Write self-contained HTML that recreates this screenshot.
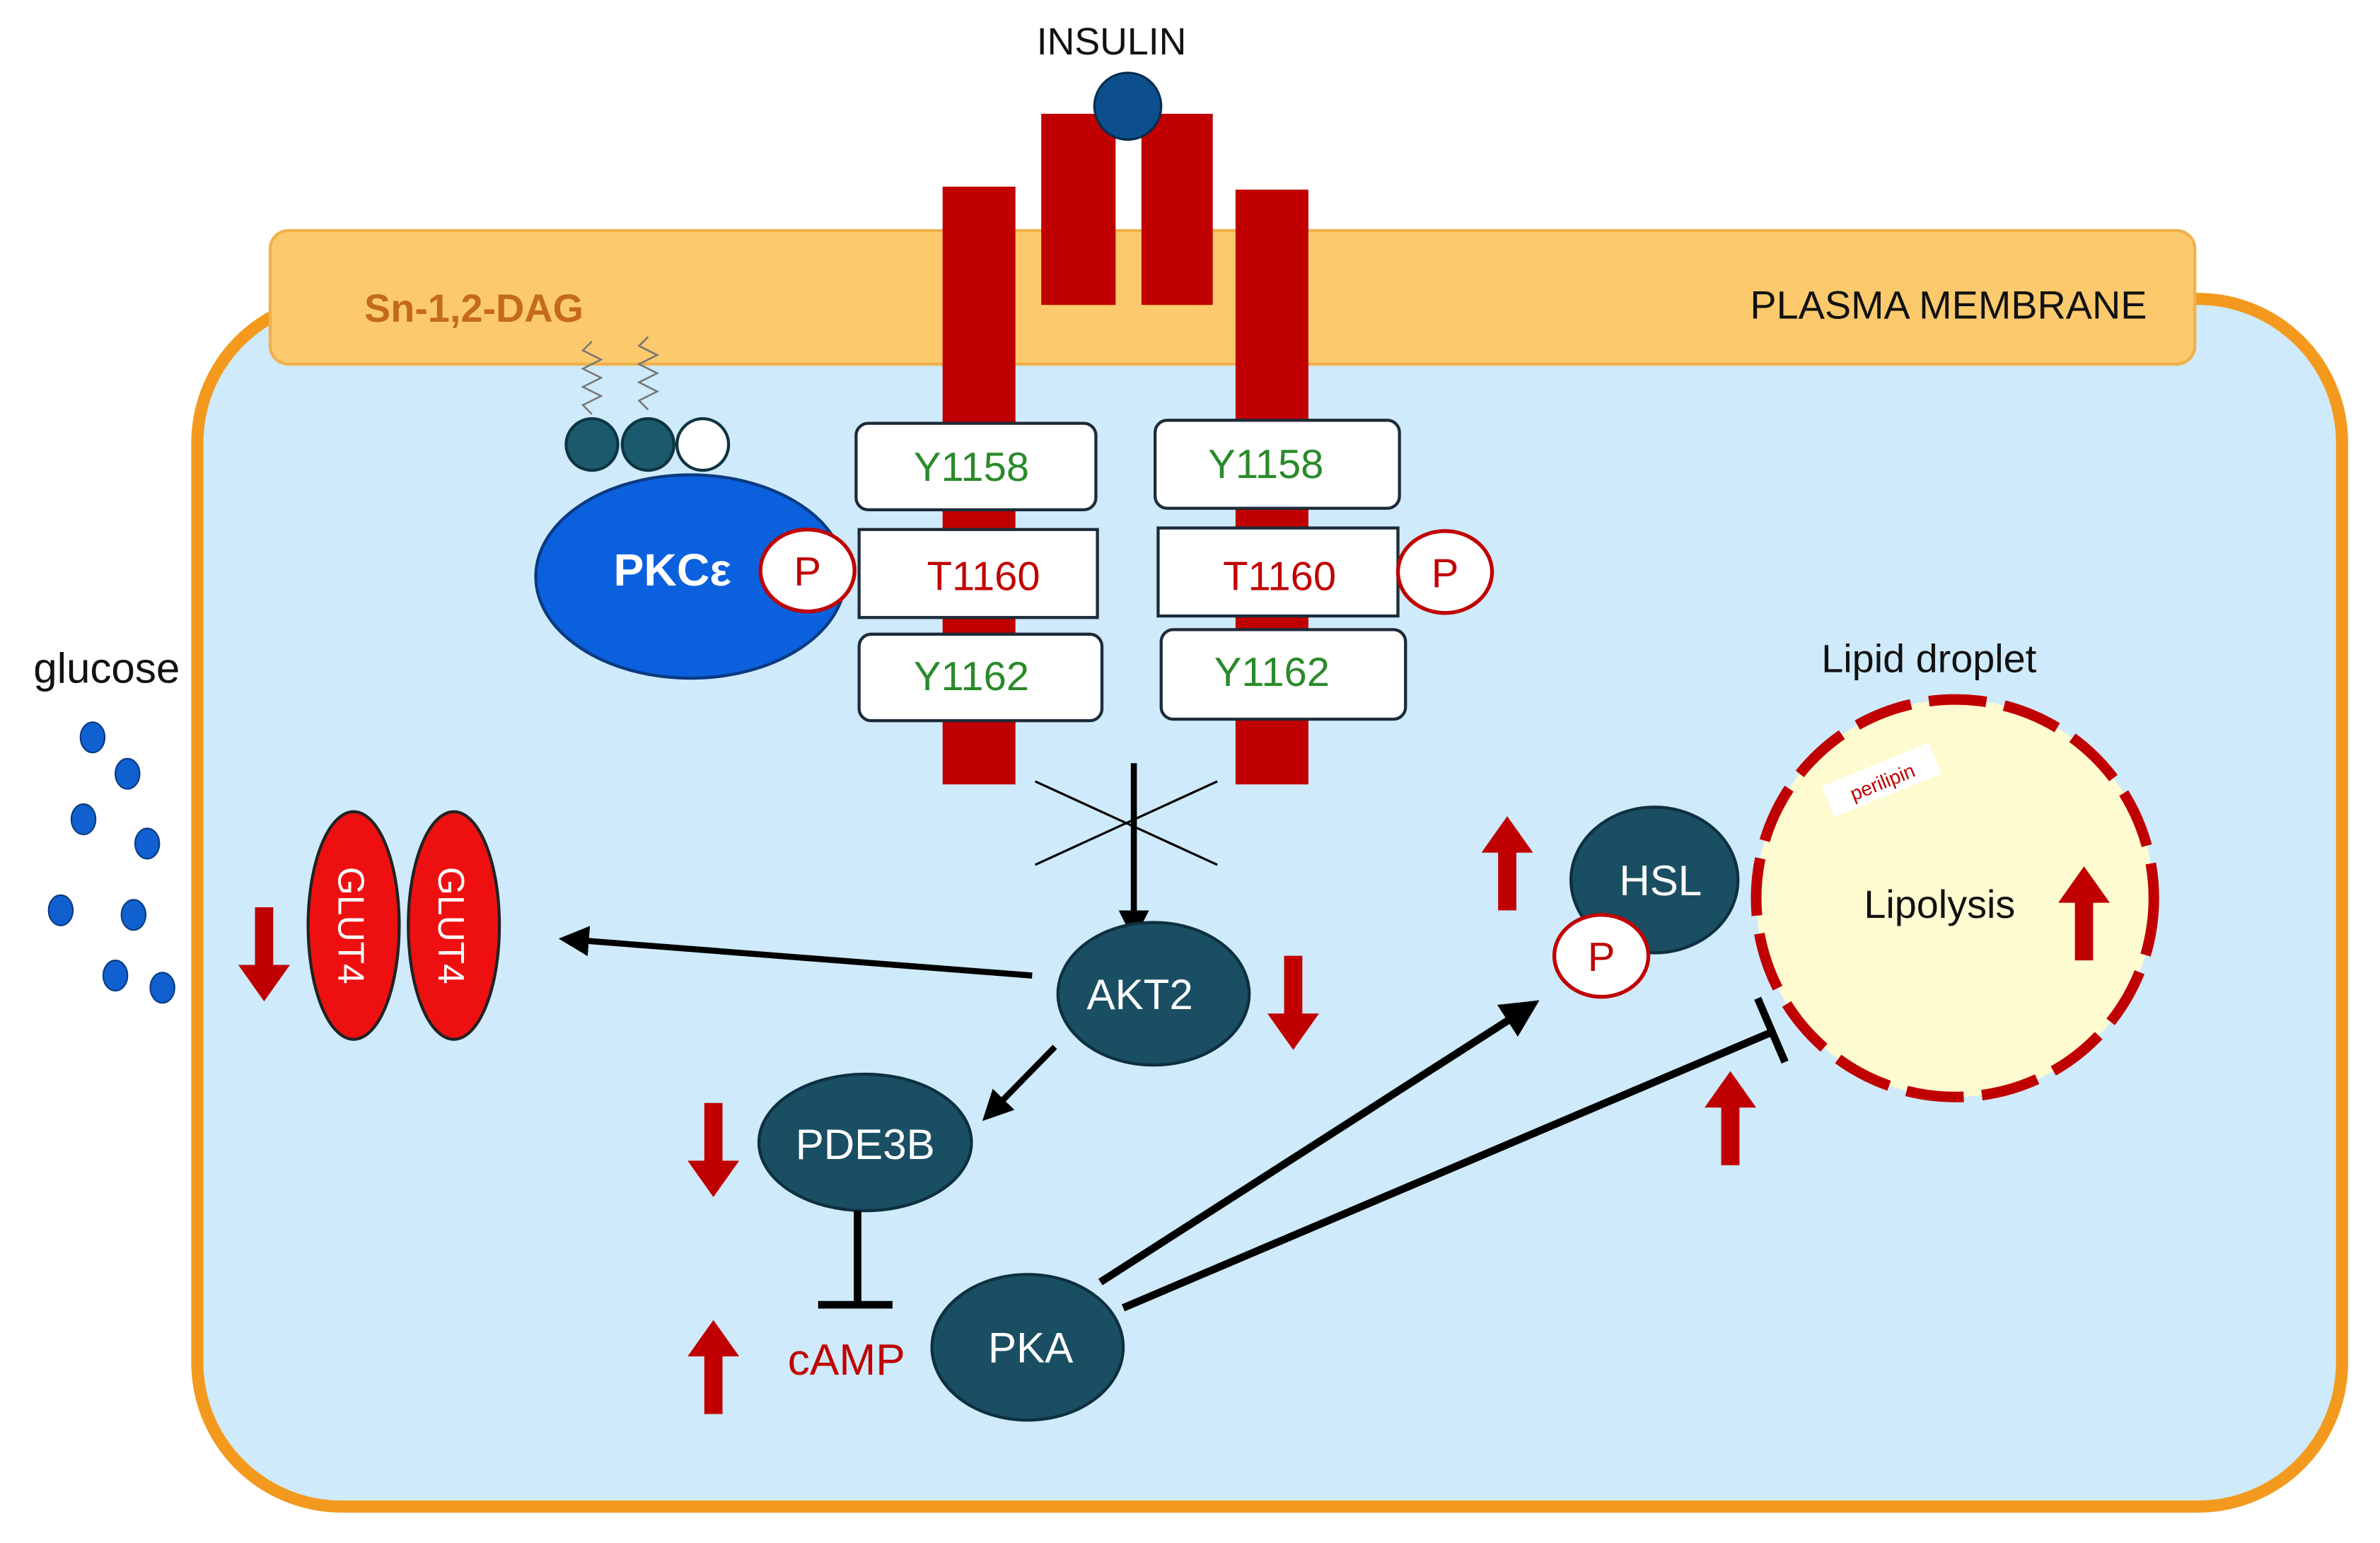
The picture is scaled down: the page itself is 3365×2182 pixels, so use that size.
<!DOCTYPE html>
<html><head><meta charset="utf-8"><style>
html,body{margin:0;padding:0;background:#fff;}
svg{display:block;}
text{font-family:"Liberation Sans",sans-serif;}
</style></head><body>
<svg width="3365" height="2182" viewBox="0 0 1568 1017" preserveAspectRatio="none" xmlns="http://www.w3.org/2000/svg">
<defs>
<marker id="ah" markerWidth="5" markerHeight="5" refX="4" refY="2.5" orient="auto" markerUnits="strokeWidth"><path d="M0,0 L5,2.5 L0,5 z" fill="#000"/></marker>
<g id="up"><path d="M-6,0 L-6,-38 L-17,-38 L0,-62 L17,-38 L6,-38 L6,0 z" fill="#c00000"/></g>
</defs>
<rect width="1568" height="1017" fill="#fff"/>
<rect x="130" y="197" width="1413" height="796" rx="95" fill="#cfeafa" stroke="#f39a1e" stroke-width="8"/>
<rect x="178" y="152" width="1268" height="88" rx="12" fill="#fcca6c" stroke="#f0b04a" stroke-width="2"/>
<text x="240" y="212" font-size="26" font-weight="bold" fill="#c46a1c">Sn-1,2-DAG</text>
<text x="1153" y="210" font-size="26" fill="#111">PLASMA MEMBRANE</text>
<text x="683" y="36" font-size="25" fill="#111">INSULIN</text>
<rect x="686" y="75" width="49" height="126" fill="#c00000"/>
<rect x="752" y="75" width="47" height="126" fill="#c00000"/>
<circle cx="743" cy="70" r="22" fill="#0d4f8c" stroke="#062c50" stroke-width="1.5"/>
<rect x="621" y="123" width="48" height="394" fill="#c00000"/>
<rect x="814" y="125" width="48" height="392" fill="#c00000"/>
<g stroke="#1d2b38" stroke-width="2" fill="#fff">
<rect x="564" y="279" width="158" height="57" rx="8"/>
<rect x="566" y="349" width="157" height="58"/>
<rect x="566" y="418" width="160" height="57" rx="8"/>
<rect x="761" y="277" width="161" height="58" rx="8"/>
<rect x="763" y="348" width="158" height="58"/>
<rect x="765" y="415" width="161" height="59" rx="8"/>
</g>
<g font-size="27" text-anchor="middle">
<text x="640" y="317" fill="#2a8a2a">Y1158</text>
<text x="648" y="389" fill="#c00000">T1160</text>
<text x="640" y="455" fill="#2a8a2a">Y1162</text>
<text x="834" y="315" fill="#2a8a2a">Y1158</text>
<text x="843" y="389" fill="#c00000">T1160</text>
<text x="838" y="452" fill="#2a8a2a">Y1162</text>
</g>
<path d="M390,225 l-6,6 l12,6 l-12,6 l12,6 l-12,6 l12,6 l-12,6 l6,6 M427,222 l-6,6 l12,6 l-12,6 l12,6 l-12,6 l12,6 l-12,6 l6,6" stroke="#777" stroke-width="1.2" fill="none"/>
<circle cx="390" cy="293" r="17" fill="#1b5a6e" stroke="#0d3440" stroke-width="2"/>
<circle cx="427" cy="293" r="17" fill="#1b5a6e" stroke="#0d3440" stroke-width="2"/>
<circle cx="463" cy="293" r="17" fill="#fff" stroke="#0d3440" stroke-width="2"/>
<ellipse cx="455" cy="380" rx="102" ry="67" fill="#0b60dd" stroke="#0a3a80" stroke-width="2"/>
<text x="443" y="386" font-size="30" font-weight="bold" fill="#fff" text-anchor="middle">PKCε</text>
<ellipse cx="532" cy="376" rx="31" ry="27" fill="#fff" stroke="#c00000" stroke-width="2.5"/>
<text x="532" y="386" font-size="27" fill="#c00000" text-anchor="middle">P</text>
<ellipse cx="952" cy="377" rx="31" ry="27" fill="#fff" stroke="#c00000" stroke-width="2.5"/>
<text x="952" y="387" font-size="27" fill="#c00000" text-anchor="middle">P</text>
<text x="22" y="450" font-size="28" fill="#111">glucose</text>
<g fill="#1060d0" stroke="#0a3a80" stroke-width="1">
<ellipse cx="61" cy="486" rx="8" ry="10"/><ellipse cx="84" cy="510" rx="8" ry="10"/>
<ellipse cx="55" cy="540" rx="8" ry="10"/><ellipse cx="97" cy="556" rx="8" ry="10"/>
<ellipse cx="40" cy="600" rx="8" ry="10"/><ellipse cx="88" cy="603" rx="8" ry="10"/>
<ellipse cx="76" cy="643" rx="8" ry="10"/><ellipse cx="107" cy="651" rx="8" ry="10"/>
</g>
<ellipse cx="233" cy="610" rx="30" ry="75" fill="#ee1010" stroke="#222" stroke-width="2"/>
<ellipse cx="299" cy="610" rx="30" ry="75" fill="#ee1010" stroke="#222" stroke-width="2"/>
<text transform="translate(223,610) rotate(90)" font-size="24" fill="#fff" text-anchor="middle">GLUT4</text>
<text transform="translate(289,610) rotate(90)" font-size="24" fill="#fff" text-anchor="middle">GLUT4</text>
<use href="#up" transform="translate(174,598) rotate(180)"/>
<line x1="682" y1="515" x2="802" y2="570" stroke="#000" stroke-width="1.5"/>
<line x1="682" y1="570" x2="802" y2="515" stroke="#000" stroke-width="1.5"/>
<line x1="747" y1="503" x2="747" y2="616" stroke="#000" stroke-width="4" marker-end="url(#ah)"/>
<ellipse cx="760" cy="655" rx="63" ry="47" fill="#1a4f63" stroke="#0d3040" stroke-width="2"/>
<text x="751" y="665" font-size="28" fill="#fff" text-anchor="middle">AKT2</text>
<line x1="680" y1="643" x2="372" y2="619" stroke="#000" stroke-width="4" marker-end="url(#ah)"/>
<use href="#up" transform="translate(852,630) rotate(180)"/>
<line x1="695" y1="690" x2="650" y2="736" stroke="#000" stroke-width="4" marker-end="url(#ah)"/>
<ellipse cx="570" cy="753" rx="70" ry="45" fill="#1a4f63" stroke="#0d3040" stroke-width="2"/>
<text x="570" y="764" font-size="28" fill="#fff" text-anchor="middle">PDE3B</text>
<use href="#up" transform="translate(470,727) rotate(180)"/>
<line x1="565" y1="798" x2="565" y2="860" stroke="#000" stroke-width="5"/>
<line x1="539" y1="860" x2="588" y2="860" stroke="#000" stroke-width="5"/>
<text x="519" y="906" font-size="29" fill="#c00000">cAMP</text>
<use href="#up" transform="translate(470,932)"/>
<ellipse cx="677" cy="888" rx="63" ry="48" fill="#1a4f63" stroke="#0d3040" stroke-width="2"/>
<text x="679" y="898" font-size="28" fill="#fff" text-anchor="middle">PKA</text>
<line x1="725" y1="845" x2="1010" y2="662" stroke="#000" stroke-width="5" marker-end="url(#ah)"/>
<line x1="740" y1="862" x2="1168" y2="680" stroke="#000" stroke-width="5"/>
<line x1="1158" y1="658" x2="1176" y2="700" stroke="#000" stroke-width="5"/>
<use href="#up" transform="translate(993,600)"/>
<ellipse cx="1090" cy="580" rx="55" ry="48" fill="#1a4f63" stroke="#0d3040" stroke-width="2"/>
<text x="1094" y="590" font-size="28" fill="#fff" text-anchor="middle">HSL</text>
<ellipse cx="1055" cy="630" rx="31" ry="27" fill="#fff" stroke="#c00000" stroke-width="2.5"/>
<text x="1055" y="640" font-size="27" fill="#c00000" text-anchor="middle">P</text>
<text x="1200" y="443" font-size="26" fill="#111">Lipid droplet</text>
<circle cx="1288" cy="592" r="131" fill="#fffbd0" stroke="#c00000" stroke-width="7" stroke-dasharray="38,12"/>
<g transform="translate(1240,515) rotate(-22)"><rect x="-38" y="-12" width="76" height="22" fill="#fff"/><text x="0" y="5" font-size="13" fill="#c00000" text-anchor="middle">perilipin</text></g>
<text x="1228" y="605" font-size="26" fill="#111">Lipolysis</text>
<use href="#up" transform="translate(1373,633)"/>
<use href="#up" transform="translate(1140,768)"/>
</svg>
</body></html>
